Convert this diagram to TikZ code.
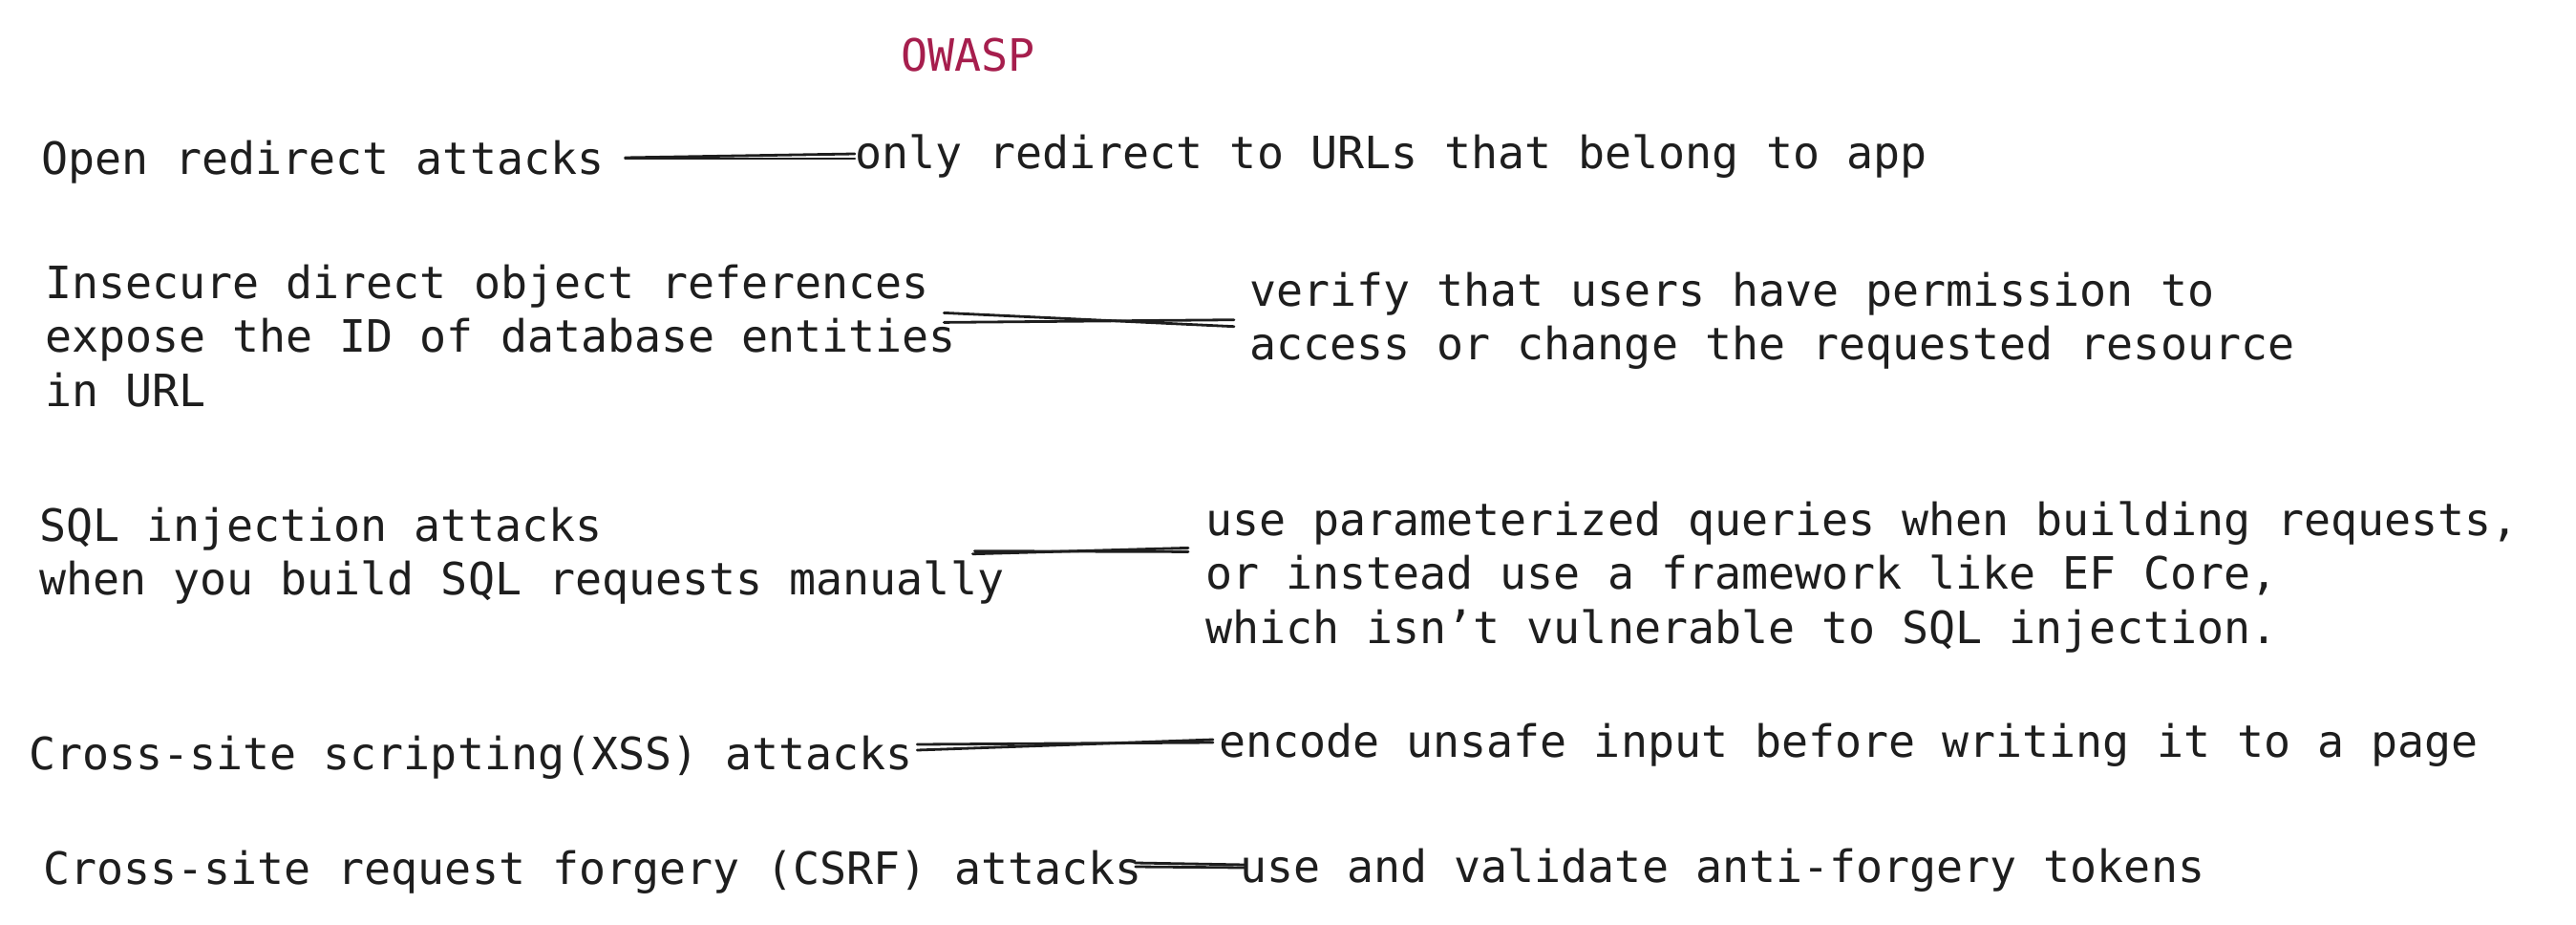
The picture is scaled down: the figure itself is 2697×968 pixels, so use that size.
\documentclass[tikz,border=0pt]{standalone}
\usepackage{fontspec}
\setmonofont{DejaVu Sans Mono}
\definecolor{owasp}{HTML}{A61E4D}
\definecolor{ink}{HTML}{1E1E1E}
\begin{document}
\begin{tikzpicture}[x=1pt,y=-1pt,
  txt/.style={anchor=base west, inner sep=0pt, align=left,
    font=\fontsize{46.6}{56.7}\selectfont\ttfamily, text=ink},
  link/.style={draw=ink, line width=2.8pt, line cap=round}]
\useasboundingbox (0,0) rectangle (2697,968);
\node[txt, text=owasp] (title) at (943,75) {OWASP};
\node[txt] (open) at (43,183) {Open redirect attacks};
\node[txt] (only) at (895,177) {only redirect to URLs that belong to app};
% multi-line nodes: base = baseline of the last line
\node[txt] (insecure) at (47,425.4) {Insecure direct object references\\expose the ID of database entities\\in URL};
\node[txt] (verify) at (1308,376.7) {verify that users have permission to\\access or change the requested resource};
\node[txt] (sql) at (41,622.7) {SQL injection attacks\\when you build SQL requests manually};
\node[txt] (param) at (1262,673.4) {use parameterized queries when building requests,\\or instead use a framework like EF Core,\\which isn’t vulnerable to SQL injection.};
\node[txt] (xss) at (30,805) {Cross-site scripting(XSS) attacks};
\node[txt] (encode) at (1276,792) {encode unsafe input before writing it to a page};
\node[txt] (csrf) at (45,925) {Cross-site request forgery (CSRF) attacks};
\node[txt] (useand) at (1298,923) {use and validate anti-forgery tokens};
% connectors
\draw[link] ([shift={(22,-18)}]open.base east) -- ([shift={(0,-16)}]only.base west);
\draw[link] ([shift={(22,-17)}]open.base east) -- ([shift={(0,-11)}]only.base west);
\draw[link] ([shift={(-13,-98)}]insecure.base east) -- ([shift={(-16,-35)}]verify.base west);
\draw[link] ([shift={(-13,-88)}]insecure.base east) -- ([shift={(-16,-42)}]verify.base west);
\draw[link] ([shift={(-33,-43)}]sql.base east) -- ([shift={(-18,-100)}]param.base west);
\draw[link] ([shift={(-31,-46)}]sql.base east) -- ([shift={(-18,-96)}]param.base west);
\draw[link] ([shift={(4,-26)}]xss.base east) -- ([shift={(-6,-15)}]encode.base west);
\draw[link] ([shift={(4,-20)}]xss.base east) -- ([shift={(-6,-18)}]encode.base west);
\draw[link] ([shift={(-7,-22)}]csrf.base east) -- ([shift={(6,-18)}]useand.base west);
\draw[link] ([shift={(-7,-18)}]csrf.base east) -- ([shift={(6,-15)}]useand.base west);
\end{tikzpicture}
\end{document}
